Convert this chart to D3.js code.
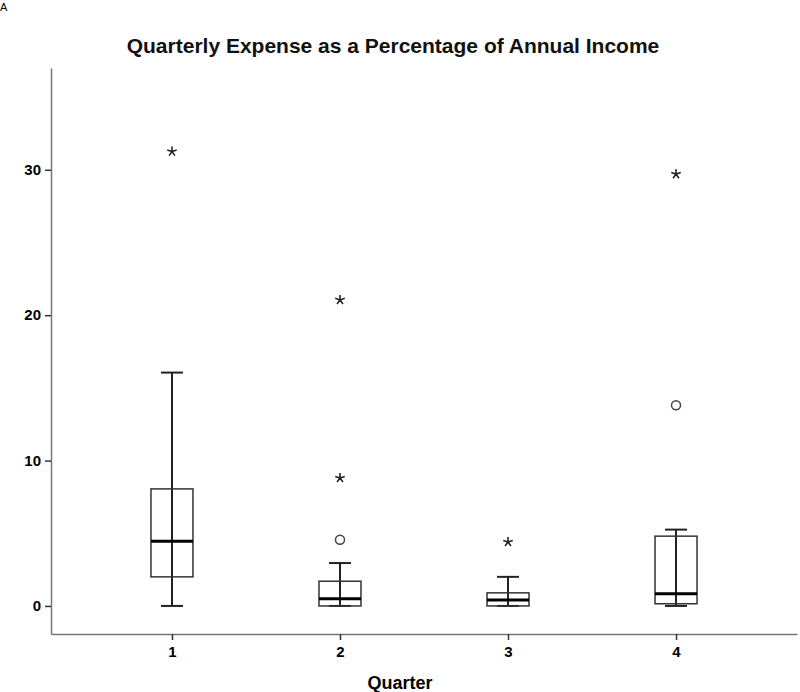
<!DOCTYPE html>
<html>
<head>
<meta charset="utf-8">
<script src="https://cdn.jsdelivr.net/npm/d3@7"></script>
<style>
  body { margin: 0; background: #fff; }
  text { font-family: "Liberation Sans", Arial, sans-serif; }
</style>
</head>
<body>
<div class="viz"></div>
<script>
const width = 800, height = 692;

// data
const quarters = ["1", "2", "3", "4"];
const whiskerLow = [0, 0, 0, 0];
const q1 = [2.0, 0.0, 0.0, 0.15];
const median = [4.45, 0.5, 0.4, 0.83];
const q3 = [8.05, 1.7, 0.9, 4.8];
const whiskerHigh = [16.05, 2.95, 2.0, 5.25];
const mildOutliers = [[], [4.55], [], [13.8]];      // circles
const extremeOutliers = [[31.25], [21.05, 8.8], [4.4], [29.7]]; // stars
const yTicks = [0, 10, 20, 30];

const svg = d3.select(".viz").append("svg")
  .attr("width", width)
  .attr("height", height);

const x = d3.scalePoint()
  .domain(quarters)
  .range([51, 797])
  .padding(0.72);

const y = d3.scaleLinear()
  .domain([-1.93, 37])
  .range([634, 68]);

// axes
const yAxis = svg.append("g")
  .attr("transform", "translate(51,0)")
  .call(d3.axisLeft(y).tickValues(yTicks).tickSize(6).tickSizeOuter(0).tickPadding(4));
const xAxis = svg.append("g")
  .attr("transform", "translate(0,634)")
  .call(d3.axisBottom(x).tickSize(6).tickSizeOuter(0).tickPadding(6));

[yAxis, xAxis].forEach(a => {
  a.select(".domain").attr("stroke", "#777").attr("stroke-width", 1.5);
  a.selectAll(".tick line").attr("stroke", "#333").attr("stroke-width", 1.5);
  a.selectAll(".tick text")
    .attr("fill", "#000")
    .style("font-size", "15px")
    .style("font-weight", "bold")
    .style("font-family", "'Liberation Sans Narrow', 'Liberation Sans', Arial, sans-serif");
});

const boxW = 42, capW = 22;
const data = quarters.map((q, i) => ({
  q, lo: whiskerLow[i], q1: q1[i], med: median[i], q3: q3[i], hi: whiskerHigh[i],
  mild: mildOutliers[i], ext: extremeOutliers[i]
}));

const g = svg.append("g").attr("class", "boxes");
const box = g.selectAll("g.box")
  .data(data)
  .join("g")
  .attr("class", "box")
  .attr("transform", d => `translate(${x(d.q)},0)`);

box.append("line") // whisker
  .attr("y1", d => y(d.lo)).attr("y2", d => y(d.hi))
  .attr("stroke", "#222").attr("stroke-width", 2);
box.append("line")
  .attr("x1", -capW / 2).attr("x2", capW / 2)
  .attr("y1", d => y(d.hi)).attr("y2", d => y(d.hi))
  .attr("stroke", "#222").attr("stroke-width", 2);
box.append("line")
  .attr("x1", -capW / 2).attr("x2", capW / 2)
  .attr("y1", d => y(d.lo)).attr("y2", d => y(d.lo))
  .attr("stroke", "#222").attr("stroke-width", 2);
box.append("rect")
  .attr("x", -boxW / 2).attr("width", boxW)
  .attr("y", d => y(d.q3))
  .attr("height", d => y(d.q1) - y(d.q3))
  .attr("fill", "none").attr("stroke", "#333").attr("stroke-width", 1.5);
box.append("line") // median
  .attr("x1", -boxW / 2).attr("x2", boxW / 2)
  .attr("y1", d => y(d.med)).attr("y2", d => y(d.med))
  .attr("stroke", "#000").attr("stroke-width", 3);

box.selectAll("circle.mild")
  .data(d => d.mild)
  .join("circle")
  .attr("class", "mild")
  .attr("cy", d => y(d)).attr("r", 4.5)
  .attr("fill", "none").attr("stroke", "#444").attr("stroke-width", 1.5);

// five-armed asterisk for extremes
function asterisk(r) {
  const p = d3.path();
  for (let k = 0; k < 5; k++) {
    const a = -Math.PI / 2 + k * 2 * Math.PI / 5;
    p.moveTo(0, 0);
    p.lineTo(r * Math.cos(a), r * Math.sin(a));
  }
  return p.toString();
}
box.selectAll("path.ext")
  .data(d => d.ext)
  .join("path")
  .attr("class", "ext")
  .attr("transform", d => `translate(0,${y(d)})`)
  .attr("d", asterisk(5))
  .attr("stroke", "#222").attr("stroke-width", 1.6).attr("fill", "none");

// texts
svg.append("text")
  .attr("x", 393).attr("y", 53)
  .attr("text-anchor", "middle")
  .style("font-size", "21px")
  .style("font-weight", "bold")
  .attr("fill", "#111")
  .text("Quarterly Expense as a Percentage of Annual Income");

svg.append("text")
  .attr("x", 400).attr("y", 689)
  .attr("text-anchor", "middle")
  .style("font-size", "18px")
  .style("font-weight", "bold")
  .style("font-family", "'Liberation Sans Narrow', 'Liberation Sans', Arial, sans-serif")
  .text("Quarter");

svg.append("text")
  .attr("x", 0).attr("y", 11)
  .style("font-size", "11px")
  .text("A");
</script>
</body>
</html>
